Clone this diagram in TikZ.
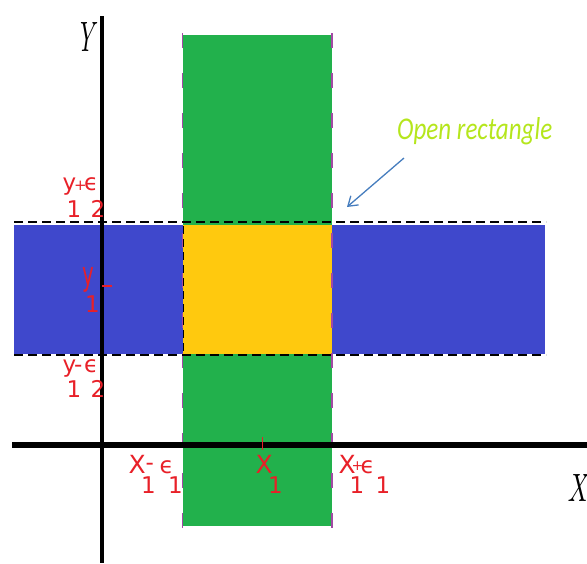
\documentclass[tikz,border=0pt]{standalone}
\usepackage{fontspec}
\usepackage{graphicx}
\usetikzlibrary{arrows.meta}
\newfontfamily\labfont{DejaVu Sans}
\newfontfamily\carl{Carlito}
\definecolor{pgreen}{RGB}{34,177,76}
\definecolor{pblue}{RGB}{63,72,204}
\definecolor{pgold}{RGB}{255,201,14}
\definecolor{plime}{RGB}{181,230,29}
\definecolor{ppurple}{RGB}{163,73,164}
\definecolor{plab}{RGB}{232,32,40}
\definecolor{parrow}{RGB}{70,125,190}
\newcommand\gl[3]{\makebox[0pt][l]{\kern#1pt\raisebox{#2pt}{#3}}}
\begin{document}
\begin{tikzpicture}[x=1pt,y=-1pt,
  lab/.style={anchor=base west, inner sep=0pt, text=plab, font=\labfont\fontsize{23}{23}\selectfont},
  edgedash/.style={ppurple, line width=1.2pt, dash pattern=on 15pt off 25pt},
  bounddash/.style={black, line width=1.8pt, dash pattern=on 9pt off 5pt},
  axis/.style={black, line width=#1}]
\useasboundingbox (0,0) rectangle (587,563);
% regions
\fill[pgreen] (183,35) rectangle (332,526);
\fill[pblue] (14,225) rectangle (545,354);
\fill[pgold] (183,225) rectangle (332,354);
% boundaries
\draw[edgedash] (182.5,33) -- (182.5,528);
\draw[edgedash] (332,33) -- (332,528);
\draw[black, line width=1pt, dash pattern=on 8pt off 5pt] (183.5,226) -- (183.5,354);
\draw[bounddash] (14,222) -- (546,222);
\draw[bounddash] (14,355) -- (546,355);
% axes
\draw[axis=4pt] (102,16) -- (102,563);
\draw[axis=5.5pt] (12,445) -- (587,445);
% ticks
\draw[plab, line width=1.5pt] (102,286) -- (112,286);
\draw[plab, line width=1pt] (262,437) -- (262,450);
% axis names
\node[inner sep=0pt] (ylab) at (86,37) {\resizebox{18pt}{29pt}{\itshape Y}};
\node[inner sep=0pt] (xlab) at (577,488) {\resizebox{20pt}{27pt}{\itshape X}};
% y labels
\node[lab] (yplus) at (62,190) {\gl{0}{0}{y}\gl{4}{-27}{1}\gl{11.5}{0}{\fontsize{15}{15}\selectfont+}\gl{21.5}{0}{ϵ}\gl{28}{-27}{2}};
\node[lab] (yone) at (82,285) {\gl{0}{0}{\scalebox{0.6}[1]{\fontsize{33}{33}\selectfont y}}\gl{2.5}{-27}{1}};
\node[lab] (yminus) at (62,372) {\gl{0}{0}{y}\gl{4}{-25}{1}\gl{11.5}{0}{-}\gl{21.5}{0}{ϵ}\gl{28}{-25}{2}};
% x labels
\node[lab] (xminus) at (128,473) {\gl{0}{0}{\fontsize{25}{25}\selectfont X}\gl{12.5}{-20}{1}\gl{17}{3}{-}\gl{31}{0}{ϵ}\gl{39.5}{-20}{1}};
\node[lab] (xone) at (255,473) {\gl{0}{0}{\fontsize{25}{25}\selectfont X}\gl{12.5}{-20}{1}};
\node[lab] (xplus) at (338,473) {\gl{0}{0}{\fontsize{25}{25}\selectfont X}\gl{11}{-20}{1}\gl{13}{3}{\fontsize{14}{14}\selectfont+}\gl{22}{0}{ϵ}\gl{37}{-20}{1}};
% annotation
\node[anchor=base west, inner sep=0pt, text=plime] (opn) at (397,139) {\resizebox{155pt}{22pt}{\carl\itshape Open rectangle}};
\coordinate (arrS) at (404,158);
\coordinate (arrE) at (347,207);
\draw[parrow, line width=1.3pt, -{Straight Barb[length=9pt,width=12pt]}] (arrS) -- (arrE);
\end{tikzpicture}
\end{document}
